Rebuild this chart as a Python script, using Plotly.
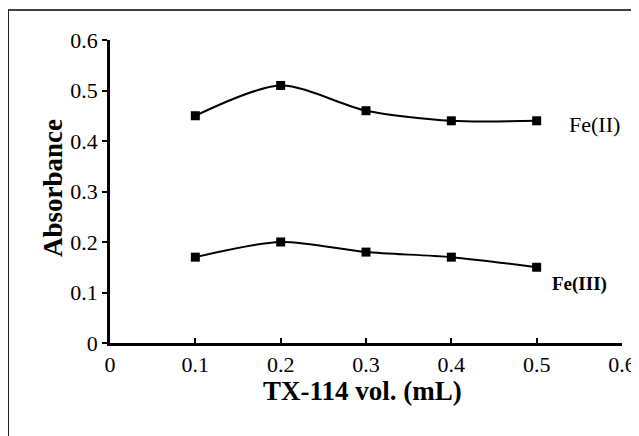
import plotly.graph_objects as go

x_vals = [0.1, 0.2, 0.3, 0.4, 0.5]
fe2 = [0.45, 0.51, 0.46, 0.44, 0.44]
fe3 = [0.17, 0.20, 0.18, 0.17, 0.15]
tick_vals = [0, 0.1, 0.2, 0.3, 0.4, 0.5, 0.6]
tick_text = ["0", "0.1", "0.2", "0.3", "0.4", "0.5", "0.6"]

FONT = "Liberation Serif"

fig = go.Figure()
for name, ys in [("Fe(II)", fe2), ("Fe(III)", fe3)]:
    fig.add_trace(go.Scatter(
        x=x_vals, y=ys, name=name, mode="lines+markers",
        line=dict(color="black", width=2, shape="spline", smoothing=0.8),
        marker=dict(symbol="square", size=9, color="black"),
        showlegend=False,
    ))

fig.add_annotation(x=0.5, y=fe2[-1], text="Fe(II)", showarrow=False,
                   xanchor="left", xshift=30, yshift=-4,
                   font=dict(family=FONT, size=22, color="black"))
fig.add_annotation(x=0.5, y=fe3[-1], text="<b>Fe(III)</b>", showarrow=False,
                   xanchor="left", xshift=13, yshift=-17,
                   font=dict(family=FONT, size=19, color="black"))

# axis titles
fig.add_annotation(xref="paper", yref="paper", x=(362 - 110) / 512, y=(343 - 408) / 303,
                   text="<b>TX-114 vol. (mL)</b>", showarrow=False,
                   font=dict(family=FONT, size=27, color="black"))
fig.add_annotation(xref="paper", yref="paper", x=(36 - 110) / 512, y=(343 - 188) / 303,
                   text="<b>Absorbance</b>", showarrow=False, textangle=-90,
                   font=dict(family=FONT, size=27, color="black"))

# outer frame
fig.add_shape(type="rect", xref="paper", yref="paper",
              x0=-0.199, y0=-0.5, x1=1.2, y1=1.099,
              line=dict(color="black", width=1.5), layer="below")

fig.update_layout(
    width=631, height=428,
    margin=dict(l=102, r=17, t=32, b=93, autoexpand=False),
    paper_bgcolor="white", plot_bgcolor="white",
    font=dict(family=FONT, color="black"),
)
fig.update_xaxes(
    range=[0, 0.6], tickvals=tick_vals, ticktext=tick_text, automargin=False,
    showgrid=False, zeroline=False, showline=True, linecolor="black", linewidth=2.5,
    ticks="inside", ticklen=5, tickwidth=2, tickcolor="black",
    tickfont=dict(family=FONT, size=22, color="black"),
)
fig.update_yaxes(
    range=[0, 0.6], tickvals=tick_vals, ticktext=tick_text, automargin=False,
    showgrid=False, zeroline=False, showline=True, linecolor="black", linewidth=2.5,
    ticks="outside", ticklen=5, tickwidth=2, tickcolor="black",
    tickfont=dict(family=FONT, size=22, color="black"),
)

fig.write_html("out.html")
